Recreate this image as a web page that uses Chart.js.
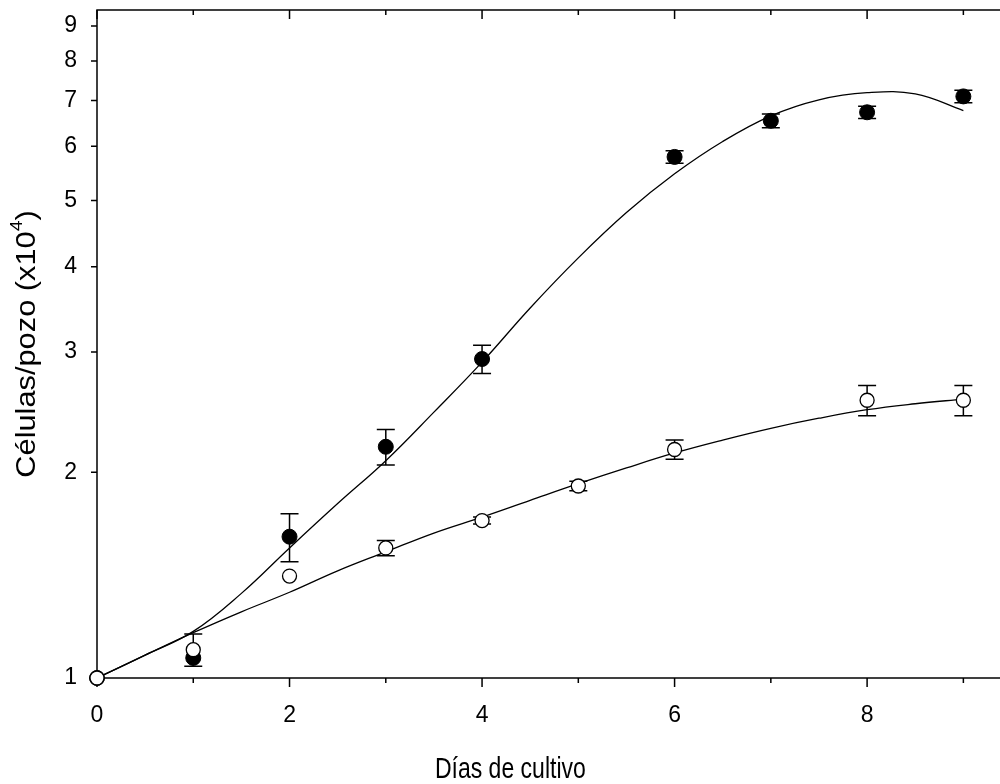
<!DOCTYPE html>
<html>
<head>
<meta charset="utf-8">
<script src="https://cdn.jsdelivr.net/npm/chart.js@4.4.1/dist/chart.umd.min.js"></script>
<style>
    html, body { margin: 0; padding: 0; background: #fff; overflow: hidden; }
    #wrap { width: 1020px; height: 784px; position: relative; }
</style>
</head>
<body>
<div id="wrap"><canvas id="myChart"></canvas></div>
<script>
(() => {
    "use strict";

    // axis ticks
    const dayTicks = [0, 1, 2, 3, 4, 5, 6, 7, 8, 9];
    const cellTicks = [1, 2, 3, 4, 5, 6, 7, 8, 9];

    // filled circles (mean and error)
    const filledDays = [0, 1, 2, 3, 4, 6, 7, 8, 9];
    const filledMean = [1.0, 1.07, 1.61, 2.18, 2.93, 5.79, 6.54, 6.73, 7.10];
    const filledErr = [0, 0, 0.13, 0.13, 0.14, 0.12, 0.15, 0.14, 0.15];

    // open circles (mean and error)
    const openDays = [0, 1, 2, 3, 4, 5, 6, 8, 9];
    const openMean = [1.0, 1.10, 1.41, 1.55, 1.70, 1.91, 2.16, 2.55, 2.55];
    const openErr = [0, 0.06, 0, 0.04, 0.02, 0.03, 0.07, 0.13, 0.13];

    // fitted curves
    const fitDays = [0, 0.5, 1, 1.5, 2, 2.5, 3, 3.5, 4, 4.5, 5, 5.5, 6, 6.5, 7, 7.5, 8, 8.5, 9];
    const filledFit = [1.0, 1.08, 1.17, 1.33, 1.55, 1.80, 2.08, 2.45, 2.90, 3.48, 4.12, 4.80, 5.47, 6.10, 6.65, 7.02, 7.19, 7.16, 6.77];
    const openFit = [1.0, 1.08, 1.165, 1.25, 1.335, 1.435, 1.53, 1.63, 1.72, 1.82, 1.925, 2.03, 2.135, 2.23, 2.32, 2.40, 2.47, 2.52, 2.56];

    const pts = (xs, ys) => xs.map((x, i) => ({ x, y: ys[i] }));
    const FONT = "'Liberation Sans', Arial, sans-serif";

    const errorBars = {
        id: "errorBars",
        beforeDatasetsDraw(chart) {
            const { ctx, scales: { x, y } } = chart;
            ctx.save();
            ctx.strokeStyle = "#000";
            ctx.lineWidth = 1.5;
            chart.data.datasets.forEach((ds) => {
                if (!ds.errors) return;
                ds.data.forEach((p, i) => {
                    const e = ds.errors[i];
                    if (!e) return;
                    const px = x.getPixelForValue(p.x);
                    const top = y.getPixelForValue(p.y + e);
                    const bot = y.getPixelForValue(p.y - e);
                    ctx.beginPath();
                    ctx.moveTo(px, top);
                    ctx.lineTo(px, bot);
                    ctx.moveTo(px - 9, top);
                    ctx.lineTo(px + 9, top);
                    ctx.moveTo(px - 9, bot);
                    ctx.lineTo(px + 9, bot);
                    ctx.stroke();
                });
            });
            ctx.restore();
        },
    };

    const frame = {
        id: "frame",
        beforeDatasetsDraw(chart) {
            const { ctx, chartArea: a, scales: { x, y } } = chart;
            ctx.save();
            ctx.strokeStyle = "#000";
            ctx.lineWidth = 1.5;
            ctx.strokeRect(a.left, a.top, a.right - a.left, a.bottom - a.top);
            ctx.beginPath();
            dayTicks.forEach((d) => {
                const px = x.getPixelForValue(d);
                const len = d % 2 === 0 ? 9 : 5;
                ctx.moveTo(px, a.bottom);
                ctx.lineTo(px, a.bottom + len);
                ctx.moveTo(px, a.top);
                ctx.lineTo(px, a.top + len);
            });
            cellTicks.forEach((v) => {
                const py = y.getPixelForValue(v);
                ctx.moveTo(a.left, py);
                ctx.lineTo(a.left - 6, py);
            });
            ctx.stroke();
            ctx.restore();
        },
    };

    const titles = {
        id: "titles",
        afterDraw(chart) {
            const { ctx, chartArea: a } = chart;
            ctx.save();
            ctx.fillStyle = "#000";
            ctx.textBaseline = "middle";

            // x title, slightly stretched vertically like the source
            ctx.font = "23px " + FONT;
            ctx.textAlign = "center";
            ctx.save();
            ctx.translate(a.left + (a.right - a.left) * 0.452, 770);
            ctx.scale(1, 1.25);
            ctx.fillText("Días de cultivo", 0, 0);
            ctx.restore();

            // y title with superscript
            const main = "Células/pozo (x10";
            const sup = "4";
            const end = ")";
            ctx.font = "27px " + FONT;
            const w1 = ctx.measureText(main).width;
            const w3 = ctx.measureText(end).width;
            ctx.font = "17px " + FONT;
            const w2 = ctx.measureText(sup).width;
            const total = w1 + w2 + w3;
            ctx.save();
            ctx.translate(28, (a.top + a.bottom) / 2);
            ctx.rotate(-Math.PI / 2);
            ctx.scale(1.14, 1);
            ctx.textAlign = "left";
            let cx = -total / 2;
            ctx.font = "27px " + FONT;
            ctx.fillText(main, cx, 0);
            cx += w1;
            ctx.font = "17px " + FONT;
            ctx.fillText(sup, cx, -11);
            cx += w2;
            ctx.font = "27px " + FONT;
            ctx.fillText(end, cx, 0);
            ctx.restore();

            ctx.restore();
        },
    };

    const canvas = document.getElementById("myChart");
    // @ts-ignore
    new Chart(canvas, {
        type: "scatter",
        data: {
            datasets: [
                {
                    label: "open",
                    data: pts(openDays, openMean),
                    errors: openErr,
                    pointRadius: 7,
                    pointBackgroundColor: "#fff",
                    pointBorderColor: "#000",
                    pointBorderWidth: 1.3,
                    clip: false,
                    order: 0,
                },
                {
                    label: "filled",
                    data: pts(filledDays, filledMean),
                    errors: filledErr,
                    pointRadius: 7.5,
                    pointBackgroundColor: "#000",
                    pointBorderColor: "#000",
                    pointBorderWidth: 1,
                    clip: false,
                    order: 1,
                },
                {
                    label: "filled fit",
                    data: pts(fitDays, filledFit),
                    showLine: true,
                    borderColor: "#000",
                    borderWidth: 1.3,
                    pointRadius: 0,
                    tension: 0.4,
                    order: 2,
                },
                {
                    label: "open fit",
                    data: pts(fitDays, openFit),
                    showLine: true,
                    borderColor: "#000",
                    borderWidth: 1.3,
                    pointRadius: 0,
                    tension: 0.4,
                    order: 3,
                },
            ],
        },
        options: {
            responsive: true,
            maintainAspectRatio: false,
            animation: false,
            layout: { padding: { top: 10, right: 7, left: 0, bottom: 0 } },
            plugins: {
                legend: { display: false },
                tooltip: { enabled: false },
            },
            scales: {
                x: {
                    type: "linear",
                    min: 0,
                    max: 9.5,
                    afterBuildTicks: (s) => { s.ticks = dayTicks.map((v) => ({ value: v })); },
                    afterFit: (s) => { s.height = 106; s.paddingLeft = 0; s.paddingRight = 0; },
                    grid: { display: false },
                    border: { display: false },
                    ticks: {
                        padding: 16,
                        color: "#000",
                        font: { family: FONT, size: 23 },
                        maxRotation: 0,
                        autoSkip: false,
                        callback: (v) => (v % 2 === 0 ? String(v) : ""),
                    },
                },
                y: {
                    type: "logarithmic",
                    min: 1,
                    max: 9.5,
                    afterBuildTicks: (s) => { s.ticks = cellTicks.map((v) => ({ value: v })); },
                    afterFit: (s) => { s.width = 97; s.paddingTop = 0; s.paddingBottom = 0; },
                    grid: { display: false },
                    border: { display: false },
                    ticks: {
                        padding: 12,
                        color: "#000",
                        font: { family: FONT, size: 23 },
                        autoSkip: false,
                        callback: (v) => String(v),
                    },
                },
            },
        },
        plugins: [errorBars, frame, titles],
    });
})();
</script>
</body>
</html>
